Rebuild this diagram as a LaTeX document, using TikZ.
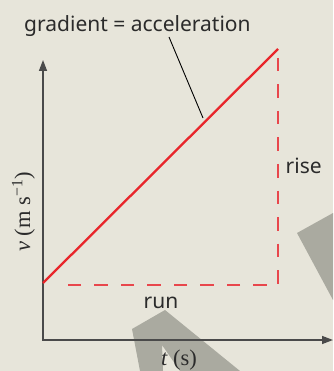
\documentclass[tikz,border=0pt]{standalone}
\usepackage{fontspec}
\setmainfont{Noto Sans}
\newfontfamily\seriffont{Liberation Serif}
\usetikzlibrary{arrows.meta}
\definecolor{bg}{HTML}{E7E5DA}
\definecolor{wm}{HTML}{AAAAA0}
\definecolor{axiscol}{HTML}{4A4A4A}
\definecolor{redl}{HTML}{E8262B}
\definecolor{redd}{HTML}{E8474C}
\definecolor{txt}{HTML}{2B2B2B}
\begin{document}
\begin{tikzpicture}[x=1pt,y=-1pt,
  lbl/.style={font=\fontsize{21}{25}\selectfont, text=txt, inner sep=0pt, anchor=base west},
  slbl/.style={font=\seriffont\fontsize{22.5}{26}\selectfont, text=txt, inner sep=0pt, anchor=base west},
  axisline/.style={draw=axiscol, line width=1.4pt, line join=miter,
    {Triangle[length=11pt,width=8pt]}-{Triangle[length=11pt,width=8pt]}},
  graphline/.style={draw=redl, line width=2.3pt},
  dashline/.style={draw=redd, line width=1.4pt, dash pattern=on 13.5pt off 13pt},
  leader/.style={draw=black, line width=0.9pt},
  wmshape/.style={fill=wm, draw=none}]
% background and bounding box
\fill[bg] (0,0) rectangle (333,371);
\useasboundingbox (0,0) rectangle (333,371);
% grey shapes
\fill[wmshape] (132,329) -- (165,310) -- (240,371) -- (180,371) -- (162,345) -- (163,371) -- (140,371) -- cycle;
\fill[wmshape] (297,233) -- (333,213) -- (333,300) -- cycle;
% axes
\coordinate (ytop) at (43,60);
\coordinate (O) at (43,340);
\coordinate (xend) at (333,340);
\draw[axisline] (ytop) -- (O) -- (xend);
% dashed rise/run
\coordinate (dtop) at (278,58);
\coordinate (dcorner) at (278,285);
\coordinate (dleft) at (58,285);
\draw[dashline] (dtop) -- (dcorner) -- (dleft);
% graph line
\coordinate (A) at (43,283);
\coordinate (B) at (278,49);
\draw[graphline] (A) -- (B);
% labels
\node[lbl] (grad) at (24,32) {gradient = acceleration};
\node[lbl] (rise) at (285.5,174) {rise};
\node[lbl] (run) at (143.5,308) {run};
\node[slbl, rotate=90] (vlab) at (30,252) {{\itshape v} (m s\textsuperscript{\char"2212 1})};
\node[slbl] (tlab) at (161,365) {{\itshape t} (s)};
% leader
\coordinate (la) at (169,37);
\coordinate (lb) at (203,118);
\draw[leader] (la) -- (lb);
\end{tikzpicture}
\end{document}
